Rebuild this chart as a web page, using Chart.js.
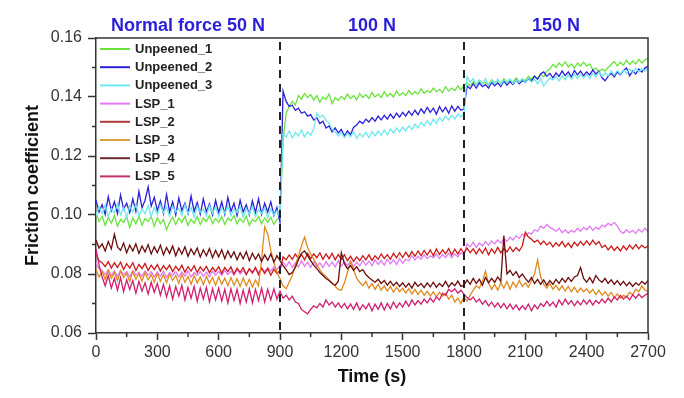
<!DOCTYPE html>
<html>
<head>
<meta charset="utf-8">
<script src="https://cdn.jsdelivr.net/npm/chart.js@4.4.1/dist/chart.umd.min.js"></script>
<style>
html,body{margin:0;padding:0;background:#fff;}
canvas{display:block;}
</style>
</head>
<body>
<canvas id="c" width="684" height="398"></canvas>
<script>
const times = [
0,15,30,45,60,75,90,105,120,135,150,165,180,195,210,225,240,255,270,285,
300,315,330,345,360,375,390,405,420,435,450,465,480,495,510,525,540,555,570,585,
600,615,630,645,660,675,690,705,720,735,750,765,780,795,810,825,840,855,870,885,
900,915,930,945,960,975,990,1005,1020,1035,1050,1065,1080,1095,1110,1125,1140,1155,1170,1185,
1200,1215,1230,1245,1260,1275,1290,1305,1320,1335,1350,1365,1380,1395,1410,1425,1440,1455,1470,1485,
1500,1515,1530,1545,1560,1575,1590,1605,1620,1635,1650,1665,1680,1695,1710,1725,1740,1755,1770,1785,
1800,1815,1830,1845,1860,1875,1890,1905,1920,1935,1950,1965,1980,1995,2010,2025,2040,2055,2070,2085,
2100,2115,2130,2145,2160,2175,2190,2205,2220,2235,2250,2265,2280,2295,2310,2325,2340,2355,2370,2385,
2400,2415,2430,2445,2460,2475,2490,2505,2520,2535,2550,2565,2580,2595,2610,2625,2640,2655,2670,2685,
2700];

const unpeened1 = [
0.1008,0.0978,0.0995,0.0965,0.0992,0.0972,0.0998,0.0962,0.0985,0.0975,0.0995,0.0958,0.0990,0.0970,0.0996,0.0965,0.0988,0.0978,0.0995,0.0962,
0.0990,0.0970,0.0985,0.0950,0.0975,0.0992,0.0968,0.0990,0.0975,0.0996,0.0965,0.0985,0.0972,0.0995,0.0968,0.0990,0.0978,0.0998,0.0970,0.0988,
0.0975,0.0995,0.0968,0.0990,0.0980,0.0998,0.0970,0.0988,0.0975,0.0996,0.0965,0.0985,0.0978,0.0995,0.0970,0.0990,0.0975,0.0992,0.0968,0.0985,
0.0990,0.1250,0.1345,0.1368,0.1385,0.1372,0.1405,0.1392,0.1412,0.1398,0.1408,0.1390,0.1405,0.1382,0.1400,0.1392,0.1410,0.1378,0.1398,0.1388,
0.1402,0.1392,0.1410,0.1395,0.1405,0.1390,0.1412,0.1398,0.1408,0.1395,0.1415,0.1400,0.1410,0.1398,0.1418,0.1402,0.1412,0.1400,0.1420,0.1405,
0.1415,0.1405,0.1422,0.1408,0.1418,0.1410,0.1428,0.1412,0.1422,0.1415,0.1430,0.1418,0.1426,0.1415,0.1435,0.1420,0.1430,0.1422,0.1438,0.1425,
0.1440,0.1448,0.1438,0.1452,0.1442,0.1455,0.1445,0.1450,0.1440,0.1458,0.1448,0.1455,0.1445,0.1462,0.1450,0.1458,0.1448,0.1465,0.1452,0.1462,
0.1455,0.1470,0.1460,0.1472,0.1462,0.1478,0.1468,0.1488,0.1495,0.1510,0.1500,0.1515,0.1505,0.1520,0.1502,0.1512,0.1498,0.1515,0.1505,0.1518,
0.1505,0.1512,0.1492,0.1498,0.1485,0.1495,0.1488,0.1500,0.1510,0.1520,0.1505,0.1518,0.1508,0.1525,0.1510,0.1522,0.1512,0.1528,0.1515,0.1525,
0.1532];
const unpeened2 = [
0.1050,0.1010,0.1035,0.1002,0.1062,0.1015,0.1045,0.1005,0.1068,0.1020,0.1040,0.1008,0.1055,0.1012,0.1080,0.1025,0.1050,0.1095,0.1030,0.1060,
0.1015,0.1048,0.1005,0.1070,0.1010,0.1045,0.1000,0.1058,0.1015,0.1040,0.1005,0.1065,0.1012,0.1042,0.1002,0.1055,0.1010,0.1038,0.1000,0.1050,
0.1008,0.1045,0.1002,0.1060,0.1012,0.1040,0.0998,0.1050,0.1010,0.1035,0.1000,0.1048,0.1008,0.1055,0.1002,0.1040,0.1010,0.1045,0.0998,0.1025,
0.0975,0.1420,0.1385,0.1368,0.1372,0.1355,0.1362,0.1345,0.1350,0.1335,0.1340,0.1322,0.1330,0.1310,0.1318,0.1295,0.1302,0.1282,0.1295,0.1278,
0.1290,0.1268,0.1285,0.1272,0.1298,0.1305,0.1318,0.1310,0.1325,0.1315,0.1330,0.1318,0.1335,0.1322,0.1338,0.1325,0.1342,0.1328,0.1345,0.1332,
0.1348,0.1335,0.1352,0.1338,0.1355,0.1340,0.1360,0.1345,0.1365,0.1348,0.1362,0.1342,0.1368,0.1350,0.1365,0.1345,0.1370,0.1352,0.1368,0.1355,
0.1360,0.1438,0.1428,0.1445,0.1430,0.1448,0.1435,0.1442,0.1430,0.1450,0.1438,0.1448,0.1435,0.1455,0.1440,0.1452,0.1442,0.1458,0.1445,0.1455,
0.1450,0.1462,0.1455,0.1470,0.1460,0.1478,0.1485,0.1470,0.1480,0.1465,0.1482,0.1470,0.1488,0.1472,0.1485,0.1468,0.1490,0.1475,0.1488,0.1472,
0.1485,0.1475,0.1492,0.1478,0.1488,0.1465,0.1455,0.1470,0.1480,0.1468,0.1485,0.1475,0.1490,0.1498,0.1472,0.1488,0.1478,0.1495,0.1485,0.1498,
0.1505];
const unpeened3 = [
0.0998,0.1028,0.1005,0.1035,0.0995,0.1022,0.1008,0.1038,0.1000,0.1025,0.0992,0.1030,0.1010,0.1035,0.0998,0.1020,0.1005,0.1032,0.0995,0.1025,
0.1002,0.1035,0.1008,0.1028,0.0995,0.1030,0.1010,0.1022,0.0998,0.1035,0.1005,0.1025,0.0992,0.1030,0.1008,0.1020,0.0998,0.1032,0.1005,0.1028,
0.0995,0.1025,0.1005,0.1030,0.0998,0.1020,0.1008,0.1028,0.0992,0.1022,0.1002,0.1030,0.0995,0.1018,0.1005,0.1025,0.0990,0.1020,0.1000,0.1015,
0.0992,0.1275,0.1265,0.1285,0.1262,0.1280,0.1268,0.1288,0.1265,0.1282,0.1270,0.1292,0.1345,0.1330,0.1338,0.1320,0.1312,0.1290,0.1282,0.1268,
0.1280,0.1262,0.1278,0.1265,0.1282,0.1260,0.1276,0.1265,0.1280,0.1262,0.1282,0.1268,0.1285,0.1270,0.1288,0.1272,0.1292,0.1278,0.1295,0.1282,
0.1298,0.1285,0.1302,0.1290,0.1308,0.1295,0.1315,0.1302,0.1320,0.1305,0.1325,0.1310,0.1330,0.1318,0.1335,0.1322,0.1338,0.1325,0.1342,0.1332,
0.1348,0.1470,0.1450,0.1462,0.1442,0.1458,0.1445,0.1462,0.1440,0.1455,0.1445,0.1460,0.1442,0.1458,0.1448,0.1462,0.1445,0.1458,0.1450,0.1462,
0.1448,0.1465,0.1450,0.1460,0.1445,0.1462,0.1438,0.1452,0.1465,0.1458,0.1470,0.1455,0.1472,0.1458,0.1475,0.1460,0.1478,0.1462,0.1475,0.1465,
0.1478,0.1462,0.1480,0.1468,0.1485,0.1470,0.1482,0.1472,0.1488,0.1475,0.1490,0.1478,0.1492,0.1480,0.1495,0.1482,0.1498,0.1485,0.1496,0.1488,
0.1500];
const lsp1 = [
0.0838,0.0818,0.0812,0.0798,0.0815,0.0795,0.0810,0.0792,0.0812,0.0798,0.0808,0.0790,0.0812,0.0796,0.0806,0.0792,0.0810,0.0795,0.0808,0.0790,
0.0806,0.0792,0.0810,0.0788,0.0805,0.0795,0.0808,0.0790,0.0806,0.0793,0.0810,0.0790,0.0805,0.0795,0.0808,0.0792,0.0806,0.0790,0.0810,0.0796,
0.0808,0.0795,0.0812,0.0798,0.0810,0.0796,0.0814,0.0800,0.0812,0.0798,0.0816,0.0802,0.0818,0.0805,0.0820,0.0808,0.0822,0.0810,0.0825,0.0815,
0.0828,0.0840,0.0825,0.0842,0.0822,0.0838,0.0824,0.0845,0.0826,0.0840,0.0822,0.0842,0.0825,0.0838,0.0822,0.0842,0.0826,0.0840,0.0824,0.0845,
0.0826,0.0842,0.0828,0.0845,0.0825,0.0840,0.0828,0.0846,0.0830,0.0844,0.0828,0.0848,0.0832,0.0846,0.0830,0.0850,0.0834,0.0848,0.0832,0.0852,
0.0836,0.0850,0.0845,0.0862,0.0848,0.0860,0.0850,0.0865,0.0852,0.0862,0.0855,0.0868,0.0852,0.0866,0.0856,0.0870,0.0855,0.0868,0.0858,0.0872,
0.0865,0.0902,0.0892,0.0908,0.0890,0.0905,0.0895,0.0910,0.0898,0.0912,0.0902,0.0915,0.0905,0.0920,0.0910,0.0925,0.0915,0.0930,0.0920,0.0935,
0.0928,0.0940,0.0935,0.0950,0.0945,0.0962,0.0955,0.0968,0.0958,0.0952,0.0945,0.0955,0.0940,0.0950,0.0938,0.0948,0.0942,0.0955,0.0945,0.0958,
0.0950,0.0962,0.0948,0.0958,0.0952,0.0966,0.0960,0.0972,0.0965,0.0975,0.0962,0.0945,0.0938,0.0950,0.0940,0.0948,0.0938,0.0952,0.0942,0.0955,
0.0945];
const lsp2 = [
0.0868,0.0845,0.0838,0.0825,0.0842,0.0820,0.0838,0.0822,0.0840,0.0815,0.0835,0.0820,0.0838,0.0812,0.0832,0.0818,0.0836,0.0812,0.0830,0.0815,
0.0832,0.0810,0.0828,0.0815,0.0830,0.0808,0.0826,0.0812,0.0830,0.0806,0.0825,0.0810,0.0828,0.0805,0.0824,0.0810,0.0826,0.0804,0.0822,0.0808,
0.0825,0.0802,0.0822,0.0808,0.0824,0.0800,0.0820,0.0806,0.0822,0.0798,0.0818,0.0805,0.0822,0.0798,0.0820,0.0802,0.0818,0.0796,0.0816,0.0802,
0.0812,0.0858,0.0848,0.0865,0.0850,0.0868,0.0852,0.0866,0.0848,0.0870,0.0852,0.0868,0.0855,0.0872,0.0850,0.0868,0.0852,0.0870,0.0848,0.0866,
0.0850,0.0865,0.0845,0.0860,0.0842,0.0858,0.0845,0.0862,0.0848,0.0865,0.0846,0.0862,0.0850,0.0868,0.0852,0.0866,0.0850,0.0870,0.0855,0.0872,
0.0856,0.0874,0.0858,0.0876,0.0860,0.0878,0.0862,0.0880,0.0864,0.0882,0.0862,0.0885,0.0866,0.0882,0.0868,0.0886,0.0865,0.0884,0.0868,0.0886,
0.0870,0.0888,0.0872,0.0885,0.0868,0.0886,0.0870,0.0888,0.0865,0.0885,0.0870,0.0890,0.0872,0.0886,0.0875,0.0892,0.0876,0.0890,0.0878,0.0895,
0.0942,0.0925,0.0918,0.0908,0.0915,0.0900,0.0912,0.0898,0.0908,0.0892,0.0906,0.0895,0.0910,0.0892,0.0905,0.0890,0.0908,0.0895,0.0910,0.0898,
0.0912,0.0898,0.0915,0.0900,0.0910,0.0890,0.0898,0.0882,0.0895,0.0880,0.0892,0.0878,0.0895,0.0882,0.0898,0.0885,0.0900,0.0886,0.0898,0.0888,
0.0895];
const lsp3 = [
0.0815,0.0790,0.0808,0.0782,0.0812,0.0785,0.0805,0.0778,0.0810,0.0788,0.0802,0.0775,0.0808,0.0782,0.0800,0.0776,0.0805,0.0780,0.0798,0.0772,
0.0802,0.0775,0.0798,0.0770,0.0800,0.0778,0.0795,0.0768,0.0798,0.0772,0.0792,0.0765,0.0795,0.0770,0.0790,0.0764,0.0792,0.0768,0.0788,0.0762,
0.0790,0.0765,0.0786,0.0760,0.0788,0.0762,0.0784,0.0758,0.0786,0.0760,0.0782,0.0756,0.0780,0.0760,0.0850,0.0960,0.0935,0.0880,0.0840,0.0805,
0.0785,0.0760,0.0750,0.0772,0.0795,0.0830,0.0860,0.0895,0.0925,0.0890,0.0868,0.0850,0.0832,0.0815,0.0800,0.0792,0.0780,0.0770,0.0758,0.0748,
0.0745,0.0770,0.0805,0.0840,0.0815,0.0785,0.0772,0.0760,0.0775,0.0752,0.0768,0.0748,0.0765,0.0745,0.0760,0.0742,0.0758,0.0738,0.0755,0.0740,
0.0752,0.0735,0.0750,0.0732,0.0748,0.0730,0.0745,0.0728,0.0742,0.0725,0.0740,0.0722,0.0738,0.0725,0.0735,0.0715,0.0728,0.0705,0.0718,0.0700,
0.0722,0.0708,0.0728,0.0745,0.0760,0.0752,0.0775,0.0810,0.0770,0.0748,0.0765,0.0745,0.0770,0.0752,0.0775,0.0748,0.0772,0.0755,0.0778,0.0758,
0.0770,0.0755,0.0778,0.0800,0.0848,0.0790,0.0765,0.0752,0.0768,0.0748,0.0762,0.0745,0.0760,0.0742,0.0758,0.0740,0.0755,0.0738,0.0752,0.0740,
0.0750,0.0735,0.0748,0.0730,0.0745,0.0728,0.0740,0.0725,0.0738,0.0720,0.0732,0.0718,0.0728,0.0722,0.0738,0.0730,0.0748,0.0740,0.0760,0.0745,
0.0742];
const lsp4 = [
0.0915,0.0888,0.0902,0.0878,0.0910,0.0885,0.0935,0.0892,0.0880,0.0905,0.0872,0.0898,0.0878,0.0902,0.0870,0.0895,0.0875,0.0900,0.0868,0.0892,
0.0872,0.0898,0.0865,0.0890,0.0870,0.0895,0.0862,0.0888,0.0868,0.0892,0.0860,0.0885,0.0866,0.0888,0.0858,0.0882,0.0862,0.0886,0.0855,0.0880,
0.0858,0.0882,0.0852,0.0878,0.0856,0.0875,0.0848,0.0872,0.0852,0.0876,0.0845,0.0870,0.0850,0.0868,0.0842,0.0865,0.0846,0.0868,0.0840,0.0862,
0.0845,0.0828,0.0815,0.0798,0.0805,0.0822,0.0848,0.0870,0.0878,0.0862,0.0845,0.0830,0.0818,0.0805,0.0795,0.0785,0.0778,0.0768,0.0762,0.0775,
0.0872,0.0835,0.0818,0.0828,0.0812,0.0825,0.0808,0.0815,0.0798,0.0788,0.0780,0.0772,0.0782,0.0768,0.0778,0.0762,0.0775,0.0760,0.0772,0.0758,
0.0770,0.0755,0.0768,0.0752,0.0772,0.0758,0.0768,0.0754,0.0770,0.0756,0.0772,0.0755,0.0768,0.0758,0.0775,0.0756,0.0770,0.0760,0.0776,0.0758,
0.0762,0.0780,0.0765,0.0785,0.0768,0.0782,0.0762,0.0788,0.0770,0.0785,0.0772,0.0790,0.0775,0.0930,0.0800,0.0812,0.0795,0.0808,0.0788,0.0800,
0.0785,0.0772,0.0788,0.0768,0.0782,0.0765,0.0780,0.0762,0.0778,0.0765,0.0782,0.0768,0.0785,0.0772,0.0788,0.0775,0.0790,0.0795,0.0822,0.0785,
0.0772,0.0788,0.0770,0.0795,0.0780,0.0772,0.0785,0.0768,0.0780,0.0765,0.0778,0.0762,0.0775,0.0760,0.0772,0.0758,0.0770,0.0762,0.0775,0.0765,
0.0778];
const lsp5 = [
0.0885,0.0830,0.0790,0.0760,0.0795,0.0752,0.0785,0.0745,0.0788,0.0740,0.0780,0.0748,0.0778,0.0735,0.0775,0.0742,0.0770,0.0732,0.0772,0.0738,
0.0768,0.0728,0.0765,0.0722,0.0760,0.0715,0.0758,0.0725,0.0762,0.0712,0.0755,0.0718,0.0758,0.0708,0.0752,0.0715,0.0755,0.0705,0.0750,0.0712,
0.0752,0.0708,0.0748,0.0702,0.0750,0.0710,0.0748,0.0700,0.0745,0.0705,0.0750,0.0702,0.0748,0.0710,0.0752,0.0705,0.0748,0.0712,0.0750,0.0715,
0.0742,0.0718,0.0728,0.0712,0.0725,0.0705,0.0700,0.0680,0.0672,0.0665,0.0680,0.0692,0.0685,0.0700,0.0688,0.0712,0.0695,0.0705,0.0688,0.0702,
0.0685,0.0700,0.0682,0.0698,0.0680,0.0702,0.0678,0.0696,0.0682,0.0700,0.0675,0.0698,0.0680,0.0702,0.0678,0.0700,0.0682,0.0705,0.0685,0.0702,
0.0688,0.0708,0.0690,0.0712,0.0695,0.0710,0.0698,0.0715,0.0702,0.0718,0.0705,0.0722,0.0712,0.0735,0.0728,0.0748,0.0740,0.0750,0.0735,0.0745,
0.0732,0.0720,0.0712,0.0722,0.0705,0.0715,0.0698,0.0710,0.0692,0.0705,0.0688,0.0702,0.0685,0.0700,0.0682,0.0698,0.0680,0.0695,0.0678,0.0692,
0.0680,0.0698,0.0675,0.0695,0.0682,0.0700,0.0690,0.0708,0.0692,0.0705,0.0688,0.0712,0.0695,0.0715,0.0698,0.0710,0.0692,0.0708,0.0695,0.0712,
0.0698,0.0712,0.0695,0.0710,0.0700,0.0715,0.0702,0.0718,0.0705,0.0722,0.0712,0.0728,0.0715,0.0725,0.0712,0.0730,0.0718,0.0732,0.0720,0.0728,
0.0735];

const seriesNames = ['Unpeened_1','Unpeened_2','Unpeened_3','LSP_1','LSP_2','LSP_3','LSP_4','LSP_5'];
const seriesValues = [unpeened1, unpeened2, unpeened3, lsp1, lsp2, lsp3, lsp4, lsp5];
const seriesColors = ['#6ae43c','#2b20d8','#6ee8ef','#e27bf2','#cc1a1a','#e08a1e','#6b0c0c','#cf1f6e'];
const legendColors = ['#6ae43c','#2b20d8','#6ee8ef','#e27bf2','#b03a3a','#d9a13a','#6b2a2a','#c2306e'];

const xTicks = [0,300,600,900,1200,1500,1800,2100,2400,2700];
const yTicks = [0.06,0.08,0.10,0.12,0.14,0.16];
const xMinor = [150,450,750,1050,1350,1650,1950,2250,2550];
const yMinor = [0.07,0.09,0.11,0.13,0.15];
const stageBounds = [900,1800];
const stageLabels = ['Normal force 50 N','100 N','150 N'];
const stageCenters = [450,1350,2250];

const FONT = "'Liberation Sans', Arial, sans-serif";
const AX = '#333333';

const datasets = seriesNames.map((n,i)=>({
  label: n,
  data: times.map((t,k)=>({x:t, y:seriesValues[i][k]})),
  borderColor: seriesColors[i],
  backgroundColor: seriesColors[i],
  borderWidth: 1.3,
  pointRadius: 0,
  tension: 0,
  fill: false,
  order: seriesNames.length - i
}));

const decor = {
  id: 'decor',
  afterDatasetsDraw(chart){
    const {ctx, chartArea:a, scales:{x,y}} = chart;
    ctx.save();
    ctx.strokeStyle = AX; ctx.lineWidth = 1.5;
    ctx.beginPath();
    ctx.moveTo(a.left, a.top); ctx.lineTo(a.right, a.top); ctx.lineTo(a.right, a.bottom);
    ctx.stroke();
    ctx.beginPath();
    xMinor.forEach(v=>{const px=x.getPixelForValue(v); ctx.moveTo(px,a.bottom); ctx.lineTo(px,a.bottom+4);});
    yMinor.forEach(v=>{const py=y.getPixelForValue(v); ctx.moveTo(a.left,py); ctx.lineTo(a.left-4,py);});
    ctx.stroke();
    ctx.strokeStyle = '#222'; ctx.lineWidth = 2; ctx.setLineDash([8,6]);
    ctx.beginPath();
    stageBounds.forEach(v=>{const px=x.getPixelForValue(v); ctx.moveTo(px,a.top+4); ctx.lineTo(px,a.bottom);});
    ctx.stroke();
    ctx.setLineDash([]);
    ctx.fillStyle = '#2b1fd8';
    ctx.font = 'bold 18px ' + FONT;
    ctx.textAlign = 'center'; ctx.textBaseline = 'middle';
    stageLabels.forEach((s,i)=>{ctx.fillText(s, x.getPixelForValue(stageCenters[i]), 26);});
    ctx.font = 'bold 13px ' + FONT;
    ctx.textAlign = 'left';
    seriesNames.forEach((n,i)=>{
      const yy = a.top + 11 + i*18.2;
      ctx.strokeStyle = legendColors[i]; ctx.lineWidth = 2;
      ctx.beginPath(); ctx.moveTo(a.left+4, yy); ctx.lineTo(a.left+34, yy); ctx.stroke();
      ctx.fillStyle = '#222';
      ctx.fillText(n, a.left+39, yy+0.5);
    });
    ctx.restore();
  }
};

new Chart(document.getElementById('c'), {
  type: 'line',
  data: { datasets },
  options: {
    responsive: false,
    animation: false,
    events: [],
    layout: { padding: { left: 0, right: 36, top: 38, bottom: 0 } },
    plugins: { legend: { display: false }, tooltip: { enabled: false } },
    scales: {
      x: {
        type: 'linear', min: 0, max: 2700,
        afterBuildTicks: s => { s.ticks = xTicks.map(v=>({value:v})); },
        afterFit: s => { s.height = 65; },
        ticks: { color: AX, font: { family: FONT, size: 16 }, padding: 3, maxRotation: 0, autoSkip: false, callback: v => String(v) },
        grid: { drawOnChartArea: false, drawTicks: true, tickLength: 7, tickColor: AX, tickWidth: 1.5 },
        border: { display: true, color: AX, width: 1.5 },
        title: { display: true, text: 'Time (s)', color: '#111', font: { family: FONT, size: 18, weight: 'bold' }, padding: { top: 0, bottom: 10 } }
      },
      y: {
        type: 'linear', min: 0.06, max: 0.16,
        afterBuildTicks: s => { s.ticks = yTicks.map(v=>({value:v})); },
        afterFit: s => { s.width = 96; },
        ticks: { color: AX, font: { family: FONT, size: 16 }, padding: 6, callback: v => Number(v).toFixed(2) },
        grid: { drawOnChartArea: false, drawTicks: true, tickLength: 8, tickColor: AX, tickWidth: 1.5 },
        border: { display: true, color: AX, width: 1.5 },
        title: { display: true, text: 'Friction coefficient', color: '#111', font: { family: FONT, size: 18, weight: 'bold' }, padding: { top: 22, bottom: 0 } }
      }
    }
  },
  plugins: [decor]
});
</script>
</body>
</html>
